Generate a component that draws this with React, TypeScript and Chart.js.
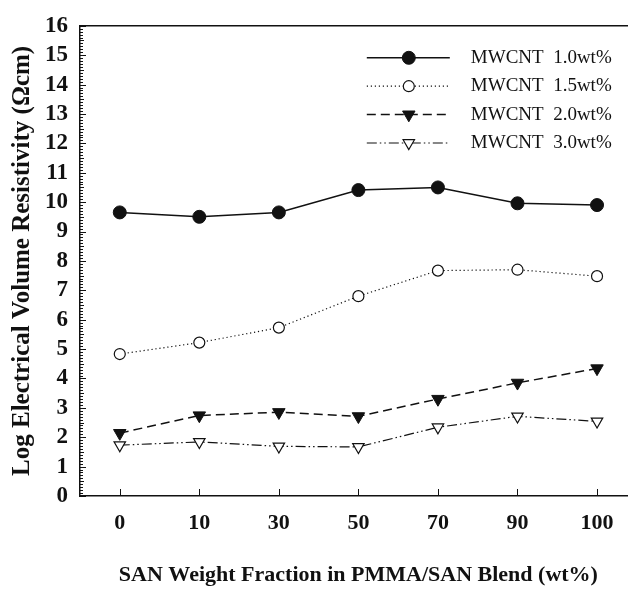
import React, { useEffect, useRef } from "react";
import { Chart, registerables } from "chart.js";
import { drawPoint } from "chart.js/helpers";

Chart.register(...registerables);

const categories = ["0", "10", "30", "50", "70", "90", "100"];
const seriesLabels = ["MWCNT  1.0wt%", "MWCNT  1.5wt%", "MWCNT  2.0wt%", "MWCNT  3.0wt%"];
const mwcnt10 = [9.65, 9.5, 9.65, 10.41, 10.5, 9.96, 9.9];
const mwcnt15 = [4.83, 5.22, 5.73, 6.8, 7.67, 7.7, 7.48];
const mwcnt20 = [2.14, 2.74, 2.85, 2.71, 3.3, 3.85, 4.34];
const mwcnt30 = [1.73, 1.84, 1.69, 1.67, 2.34, 2.71, 2.54];
const yMin = 0;
const yMax = 16;
const xTitle = "SAN Weight Fraction in PMMA/SAN Blend (wt%)";
const yTitle = "Log Electrical Volume Resistivity (\u03A9cm)";

const FONT = "'Liberation Serif', 'Times New Roman', serif";
const INK = "#111111";

const decorPlugin = {
  id: "decor",
  afterDraw(chart: any) {
    const { ctx, chartArea: ca, scales } = chart;
    const xs = scales.x;
    const ys = scales.y;
    ctx.save();
    ctx.strokeStyle = INK;
    ctx.setLineDash([]);
    // top frame line
    ctx.lineWidth = 1.5;
    ctx.beginPath();
    ctx.moveTo(ca.left, ca.top);
    ctx.lineTo(ca.right, ca.top);
    ctx.stroke();
    // y ticks (inside), major + minor
    ctx.lineWidth = 1;
    for (let i = yMin * 10; i <= yMax * 10; i++) {
      const py = Math.round(ys.getPixelForValue(i / 10)) + 0.5;
      const len = i % 10 === 0 ? 6 : i % 5 === 0 ? 4 : 3;
      ctx.beginPath();
      ctx.moveTo(ca.left, py);
      ctx.lineTo(ca.left + len, py);
      ctx.stroke();
    }
    // x ticks (inside)
    for (let i = 0; i < categories.length; i++) {
      const px = Math.round(xs.getPixelForValue(i)) + 0.5;
      ctx.beginPath();
      ctx.moveTo(px, ca.bottom);
      ctx.lineTo(px, ca.bottom - 7);
      ctx.stroke();
    }
    // legend
    const ds = chart.data.datasets;
    const lineStart = ca.right - 270;
    const lineEnd = ca.right - 187;
    const markX = ca.right - 228;
    const textX = ca.right - 166;
    for (let i = 0; i < ds.length; i++) {
      const d = ds[i];
      const y = ca.top + 32 + i * 28.4;
      ctx.strokeStyle = d.borderColor;
      ctx.lineWidth = d.borderWidth;
      ctx.setLineDash(d.borderDash || []);
      ctx.beginPath();
      ctx.moveTo(lineStart, y);
      ctx.lineTo(lineEnd, y);
      ctx.stroke();
      ctx.setLineDash([]);
      ctx.fillStyle = d.pointBackgroundColor;
      ctx.strokeStyle = d.pointBorderColor;
      ctx.lineWidth = d.pointBorderWidth;
      drawPoint(
        ctx,
        {
          pointStyle: d.pointStyle,
          rotation: d.pointRotation || 0,
          radius: d.pointRadius,
          borderWidth: d.pointBorderWidth,
        } as any,
        markX,
        y
      );
      ctx.fillStyle = INK;
      ctx.font = `19px ${FONT}`;
      ctx.textBaseline = "middle";
      ctx.textAlign = "left";
      ctx.fillText(seriesLabels[i], textX, y);
    }
    ctx.restore();
  },
};

export default function App() {
  const ref = useRef<HTMLCanvasElement | null>(null);
  useEffect(() => {
    if (!ref.current) return;
    const chart = new Chart(ref.current, {
      type: "line",
      data: {
        labels: categories,
        datasets: [
          {
            label: seriesLabels[0],
            data: mwcnt10,
            borderColor: INK,
            borderWidth: 1.5,
            pointStyle: "circle",
            pointRadius: 6.5,
            pointBackgroundColor: INK,
            pointBorderColor: INK,
            pointBorderWidth: 1,
          },
          {
            label: seriesLabels[1],
            data: mwcnt15,
            borderColor: INK,
            borderWidth: 1.2,
            borderDash: [1.2, 2.8],
            pointStyle: "circle",
            pointRadius: 5.5,
            pointBackgroundColor: "#ffffff",
            pointBorderColor: INK,
            pointBorderWidth: 1.2,
          },
          {
            label: seriesLabels[2],
            data: mwcnt20,
            borderColor: INK,
            borderWidth: 1.5,
            borderDash: [9, 5],
            pointStyle: "triangle",
            pointRotation: 180,
            pointRadius: 7.2,
            pointBackgroundColor: INK,
            pointBorderColor: INK,
            pointBorderWidth: 1,
          },
          {
            label: seriesLabels[3],
            data: mwcnt30,
            borderColor: INK,
            borderWidth: 1.2,
            borderDash: [10, 3, 1.5, 3, 1.5, 3],
            pointStyle: "triangle",
            pointRotation: 180,
            pointRadius: 6.6,
            pointBackgroundColor: "#ffffff",
            pointBorderColor: INK,
            pointBorderWidth: 1.2,
          },
        ] as any,
      },
      options: {
        responsive: false,
        animation: false,
        layout: { padding: { top: 23, right: 2, left: 0, bottom: 0 } },
        plugins: { legend: { display: false }, tooltip: { enabled: false } },
        scales: {
          x: {
            type: "category",
            offset: true,
            grid: { display: false, drawTicks: false },
            border: { display: true, color: INK, width: 1.5 },
            ticks: {
              font: { family: FONT, size: 22, weight: "bold" },
              color: INK,
              padding: 14,
              maxRotation: 0,
              autoSkip: false,
            },
            title: {
              display: true,
              text: xTitle,
              color: INK,
              font: { family: FONT, size: 22, weight: "bold", lineHeight: 1 },
              padding: { top: 0, bottom: 3 },
            },
            afterFit(s: any) {
              s.height = 93;
            },
          },
          y: {
            min: yMin,
            max: yMax,
            grid: { display: false, drawTicks: false },
            border: { display: true, color: INK, width: 1.5 },
            ticks: {
              stepSize: 1,
              autoSkip: false,
              font: { family: FONT, size: 23, weight: "bold" },
              color: INK,
              padding: 12,
            },
            title: {
              display: true,
              text: yTitle,
              color: INK,
              font: { family: FONT, size: 25, weight: "bold", lineHeight: 1 },
              padding: { top: 10, bottom: 0 },
            },
            afterFit(s: any) {
              s.width = 80;
            },
          },
        },
      } as any,
      plugins: [decorPlugin],
    });
    return () => chart.destroy();
  }, []);
  return (
    <div
      style={{
        position: "fixed",
        left: 0,
        top: 0,
        width: 645,
        height: 589,
        overflow: "hidden",
        background: "#fff",
      }}
    >
      <canvas ref={ref} width={645} height={589} style={{ display: "block" }} />
    </div>
  );
}
